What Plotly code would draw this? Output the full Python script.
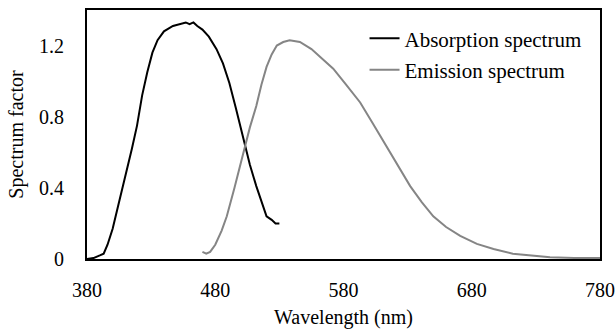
import plotly.graph_objects as go

abs_wl = [380, 385, 390, 393, 396, 400, 405, 411, 415, 419, 423, 427, 431, 435, 440, 447, 453, 457, 460, 463, 466, 470, 475, 481, 486, 491, 496, 502, 507, 512, 516, 520, 524, 527, 530]
abs_val = [0.0, 0.005, 0.02, 0.03, 0.08, 0.17, 0.32, 0.49, 0.62, 0.75, 0.92, 1.05, 1.16, 1.23, 1.28, 1.31, 1.32, 1.33, 1.32, 1.33, 1.31, 1.29, 1.25, 1.18, 1.10, 0.99, 0.85, 0.67, 0.53, 0.41, 0.32, 0.24, 0.22, 0.20, 0.20]

em_wl = [470, 473, 476, 480, 485, 489, 495, 502, 507, 512, 516, 520, 524, 528, 533, 538, 546, 555, 563, 572, 582, 593, 603, 614, 623, 632, 641, 650, 660, 671, 684, 697, 712, 728, 741, 760, 780]
em_val = [0.04, 0.03, 0.04, 0.08, 0.16, 0.24, 0.40, 0.60, 0.74, 0.86, 0.98, 1.08, 1.15, 1.20, 1.22, 1.23, 1.22, 1.18, 1.13, 1.07, 0.98, 0.88, 0.76, 0.63, 0.52, 0.41, 0.32, 0.24, 0.18, 0.13, 0.085, 0.056, 0.03, 0.017, 0.01, 0.006, 0.005]

x_ticks = [380, 480, 580, 680, 780]
y_ticks = [0, 0.4, 0.8, 1.2]
y_tick_labels = ["0", "0.4", "0.8", "1.2"]

font_family = "Liberation Serif, Times New Roman, serif"

fig = go.Figure()
fig.add_trace(go.Scatter(x=abs_wl, y=abs_val, mode="lines", name="Absorption spectrum",
                         line=dict(color="#000000", width=2), legendgroup="a"))
fig.add_trace(go.Scatter(x=em_wl, y=em_val, mode="lines", name="Emission spectrum",
                         line=dict(color="#858585", width=2), legendgroup="b"))

fig.update_layout(
    width=616, height=331,
    margin=dict(l=87, r=16, t=10, b=72, autoexpand=False),
    paper_bgcolor="white", plot_bgcolor="white",
    font=dict(family=font_family, size=20, color="#000000"),
    showlegend=True,
    legend=dict(x=0.541, y=0.967, xanchor="left", yanchor="top",
                bgcolor="rgba(0,0,0,0)", font=dict(size=21, family=font_family),
                tracegroupgap=1, itemwidth=30),
    xaxis=dict(range=[380, 780], tickvals=x_ticks, showgrid=False, zeroline=False,
               showline=True, linecolor="black", linewidth=2, mirror=True,
               ticks="", ticklabelstandoff=12, tickfont=dict(size=20), automargin=False,
               title=dict(text="Wavelength (nm)", standoff=10, font=dict(size=20))),
    yaxis=dict(range=[0, 1.4], tickvals=y_ticks, ticktext=y_tick_labels, showgrid=False,
               zeroline=False, showline=True, linecolor="black", linewidth=2, mirror=True,
               ticks="", ticklabelstandoff=17, tickfont=dict(size=20), automargin=False,
               title=dict(text="Spectrum factor", standoff=10, font=dict(size=20))),
)

fig.write_html("out.html", config={"displayModeBar": False},
               post_script="document.body.style.margin='0';document.body.style.overflow='hidden';")
